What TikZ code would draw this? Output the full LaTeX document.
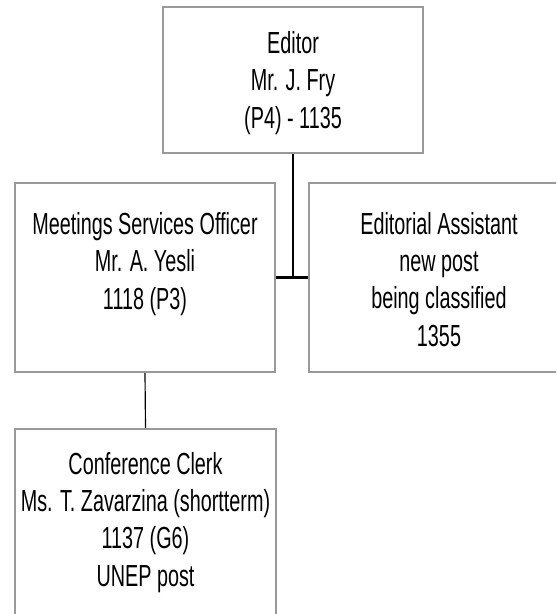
\documentclass[tikz,border=0pt]{standalone}
\usepackage{fontspec}
\setmainfont{Liberation Sans}[FakeStretch=0.65]
\usetikzlibrary{positioning}

\begin{document}
\begin{tikzpicture}[
    x=0.03cm, y=-0.03cm,
    post/.style={rectangle, draw=black!40, line width=0.06cm, minimum width=7.8cm, inner sep=0pt},
    posttext/.style={anchor=base, align=center, inner sep=0pt, font=\fontsize{26}{31.6}\selectfont},
    link/.style={draw=black, line width=0.065cm},
    sublink/.style={draw=black, line width=0.035cm}
]
    \clip (0,0) rectangle (556,614);

    % Editor
    \node[post, minimum height=4.38cm] (editor) at (293,80) {};
    \node[posttext] (editortxt) at (293,128) {Editor\\Mr. J. Fry\\(P4) - 1135};

    % Meetings Services Officer
    \node[post, minimum height=5.67cm] (mso) at (145,277.5) {};
    \node[posttext] (msotxt) at (145,309) {Meetings Services Officer\\Mr. A. Yesli\\1118 (P3)};

    % Editorial Assistant
    \node[post, minimum height=5.67cm] (ea) at (439,277.5) {};
    \node[posttext] (eatxt) at (439,346) {Editorial Assistant\\new post\\being classified\\1355};

    % Conference Clerk
    \node[post, minimum height=5.67cm] (clerk) at (145.5,523.5) {};
    \node[posttext] (clerktxt) at (145.5,586) {Conference Clerk\\Ms. T. Zavarzina (shortterm)\\1137 (G6)\\UNEP post};

    % lines
    \coordinate (junc) at (editor.south |- mso.center);
    \draw[link] (editor.south) -- (junc);
    \draw[link] (mso.east |- junc) -- (ea.west |- junc);
    \draw[sublink] (mso.south) -- (clerk.north);
\end{tikzpicture}
\end{document}
